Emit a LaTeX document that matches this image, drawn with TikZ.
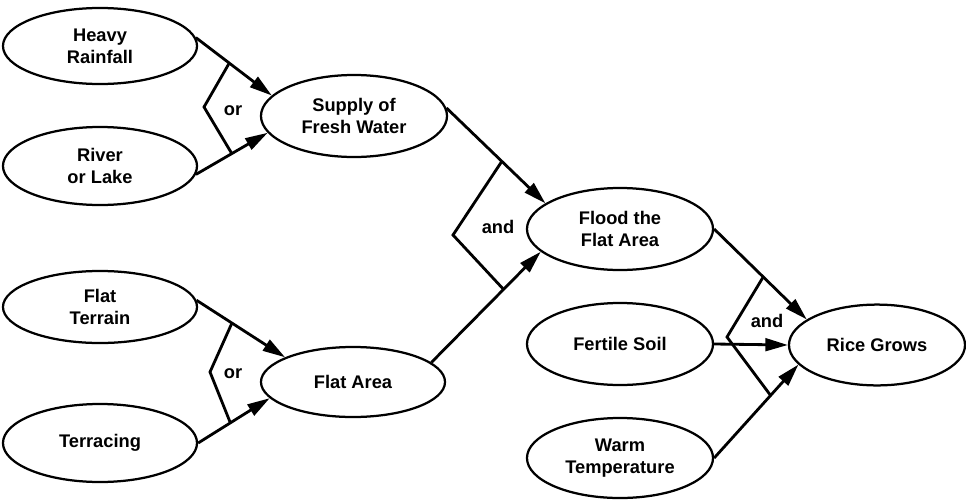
\documentclass[tikz,border=0pt]{standalone}
\usepackage{fontspec}
\setmainfont{Liberation Sans}
\usetikzlibrary{arrows.meta}
\usetikzlibrary{shapes.geometric}
\tikzset{>={Triangle[length=16pt,width=9pt]}}
\tikzset{goal/.style={draw,ellipse,line width=1.6pt,align=center,inner sep=0pt,
    minimum width=4.75cm,minimum height=2cm,font=\bfseries\fontsize{13}{15.5}\selectfont}}
\tikzset{link/.style={->,line width=2pt}}
\tikzset{gate/.style={line width=2pt,line join=miter}}
\tikzset{word/.style={font=\bfseries\fontsize{13}{15.5}\selectfont}}

\begin{document}
\begin{tikzpicture}[x=0.025cm,y=-0.025cm]
    \useasboundingbox (0,0) rectangle (966,500);
    % causes
    \node[goal,minimum width=4.85cm,minimum height=1.9cm] (Rain) at (100,46) {Heavy\\Rainfall};
    \node[goal,minimum width=4.85cm,minimum height=1.95cm] (Lake) at (100,166) {River\\or Lake};
    \node[goal,minimum width=4.85cm,minimum height=1.8cm] (Terr) at (100,307) {Flat\\Terrain};
    \node[goal,minimum width=4.85cm,minimum height=1.95cm] (Terc) at (100,443) {Terracing};
    \node[goal,minimum width=4.65cm,minimum height=2.05cm] (Water) at (354,116) {Supply of\\Fresh Water};
    \node[goal,minimum width=4.6cm,minimum height=1.75cm] (Flat) at (353,382) {Flat Area};
    \node[goal,minimum width=4.65cm,minimum height=2.05cm] (Flood) at (620,229) {Flood the\\Flat Area};
    \node[goal,minimum width=4.65cm,minimum height=2.05cm] (Soil) at (620,344) {Fertile Soil};
    \node[goal,minimum width=4.65cm,minimum height=2cm] (Warm) at (620,458) {Warm\\Temperature};
    \node[goal,minimum width=4.4cm,minimum height=2.02cm] (Rice) at (877,345) {Rice Grows};
    % links
    \draw[link] (Rain.5) -- coordinate[pos=.44] (G1a) (Water.166);
    \draw[link] (Lake.-5) -- coordinate[pos=.5] (G1b) (Water.191);
    \draw[link] (Terr.4) -- coordinate[pos=.4] (G2a) (Flat.160);
    \draw[link] (Terc.east) -- coordinate[pos=.45] (G2b) (Flat.191);
    \draw[link] (Water.5) -- coordinate[pos=.56] (G3a) (Flood.161);
    \draw[link] (Flat.14) -- coordinate[pos=.66] (G3b) (Flood.196);
    \draw[link] (Flood.east) -- coordinate[pos=.53] (G4a) (Rice.160);
    \draw[link] (Soil.east) -- (Rice.west);
    \draw[link] (Warm.east) -- coordinate[pos=.67] (G4b) (Rice.194);
    % gates
    \coordinate (G1m) at (204,107);
    \coordinate (G2m) at (210,372);
    \coordinate (G3m) at (453,235);
    \coordinate (G4m) at (727,337);
    \draw[gate] (G1a) -- (G1m) -- (G1b);
    \draw[gate] (G2a) -- (G2m) -- (G2b);
    \draw[gate] (G3a) -- (G3m) -- (G3b);
    \draw[gate] (G4a) -- (G4m) -- (G4b);
    \node[word] (O1) at (233,111) {or};
    \node[word] (O2) at (233,374) {or};
    \node[word] (A1) at (498,227) {and};
    \node[word] (A2) at (767,321) {and};
\end{tikzpicture}
\end{document}
